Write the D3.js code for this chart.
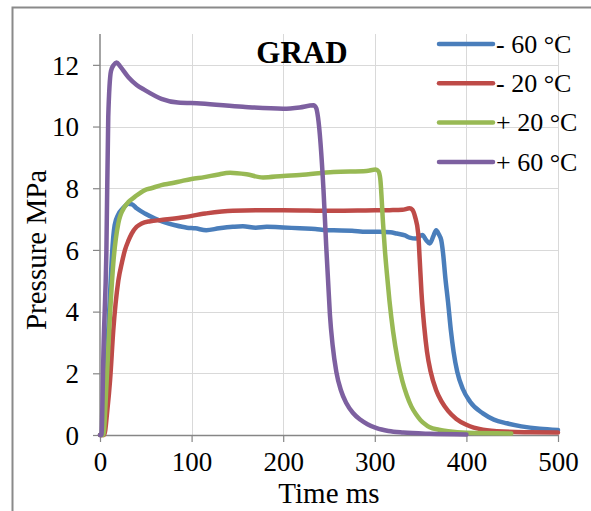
<!DOCTYPE html>
<html>
<head>
<meta charset="utf-8">
<script src="https://cdn.jsdelivr.net/npm/d3@7"></script>
<style>
  html, body { margin: 0; padding: 0; background: #fff; }
  svg { display: block; }
  text { font-family: "Liberation Serif", "Times New Roman", serif; fill: #000; }
</style>
</head>
<body>
<svg id="chart" width="591" height="511"></svg>
<script>
// Pressure traces (time in ms, pressure in MPa)
const seriesNames = ["- 60 °C", "- 20 °C", "+ 20 °C", "+ 60 °C"];
const seriesColors = ["#4a7ebb", "#be4b48", "#98b954", "#7d60a0"];

const tMinus60 = [0, 2, 5, 8, 11, 13, 16, 20, 25, 31, 35, 40, 49, 60, 70, 82, 95, 104, 116, 130, 145, 156, 170, 182, 200, 218, 235, 247, 255, 275, 291, 305, 317, 324, 333, 338, 345, 352, 356, 360, 364, 367, 370, 372.5, 374.5, 377, 380, 383, 386, 390, 396, 404, 418, 430, 444, 460, 480, 500];
const pMinus60 = [0, 0, 1.0, 2.8, 4.6, 5.8, 6.8, 7.15, 7.35, 7.5, 7.48, 7.35, 7.18, 7.02, 6.9, 6.8, 6.72, 6.7, 6.64, 6.7, 6.75, 6.77, 6.72, 6.75, 6.73, 6.7, 6.68, 6.64, 6.64, 6.62, 6.59, 6.59, 6.57, 6.53, 6.47, 6.4, 6.37, 6.48, 6.32, 6.21, 6.45, 6.64, 6.5, 6.32, 5.9, 5.1, 4.3, 3.4, 2.7, 2.05, 1.5, 1.08, 0.7, 0.5, 0.38, 0.28, 0.2, 0.16];

const tMinus20 = [0, 4.5, 8, 11, 14.5, 20, 24, 27.3, 31, 34.6, 40, 45.5, 55, 67, 89, 115, 145, 200, 255, 290, 316, 330, 338, 341, 344, 347.4, 349, 351, 354, 357, 361, 367, 373, 380, 389, 400, 418, 440, 470, 500];
const pMinus20 = [0, 0, 0.8, 1.78, 3.4, 5.0, 5.6, 6.0, 6.3, 6.53, 6.75, 6.86, 6.93, 6.97, 7.05, 7.18, 7.27, 7.29, 7.27, 7.28, 7.29, 7.3, 7.35, 7.3, 7.07, 6.53, 5.7, 4.6, 3.5, 2.7, 2.05, 1.45, 1.08, 0.78, 0.52, 0.33, 0.17, 0.11, 0.09, 0.08];

const tPlus20 = [0, 3.6, 7.3, 11, 14.5, 20, 27, 31, 38, 49, 56, 67, 78, 90, 100, 114, 128, 142, 160, 178, 200, 218, 255, 291, 301, 304, 306, 309, 311, 313, 316, 320, 325, 330, 335, 340, 345, 350, 355, 360, 370, 380, 400, 449];
const pPlus20 = [0, 0, 1.78, 3.94, 5.56, 6.86, 7.4, 7.55, 7.72, 7.94, 8.0, 8.1, 8.16, 8.24, 8.3, 8.36, 8.44, 8.5, 8.45, 8.35, 8.4, 8.43, 8.53, 8.56, 8.61, 8.55, 8.3, 6.86, 6.0, 5.3, 4.35, 3.35, 2.43, 1.76, 1.28, 0.92, 0.67, 0.48, 0.35, 0.25, 0.17, 0.12, 0.07, 0.05];

const tPlus60 = [0, 1.5, 4, 7, 9, 12, 15, 18, 22, 31, 40, 49, 67, 85, 110, 156, 200, 218, 233, 236, 238, 244, 247, 249, 251, 254, 258, 263, 269, 276, 284, 292, 302, 315, 331, 360, 400];
const pPlus60 = [0, 0, 3.0, 6.0, 10.3, 11.8, 12.0, 12.08, 11.95, 11.6, 11.35, 11.18, 10.9, 10.78, 10.75, 10.64, 10.58, 10.62, 10.69, 10.6, 10.3, 7.94, 6.1, 5.0, 3.9, 2.9, 2.05, 1.45, 1.03, 0.72, 0.5, 0.35, 0.22, 0.13, 0.08, 0.04, 0.02];

const xTicks = [0, 100, 200, 300, 400, 500];
const yTicks = [0, 2, 4, 6, 8, 10, 12];

const chartTitle = "GRAD";
const xTitle = "Time ms";
const yTitle = "Pressure MPa";

const times = [tMinus60, tMinus20, tPlus20, tPlus60];
const pressures = [pMinus60, pMinus20, pPlus20, pPlus60];
const series = seriesNames.map((name, i) => ({
  name,
  color: seriesColors[i],
  points: times[i].map((t, j) => ({ t, p: pressures[i][j] }))
}));

const svg = d3.select("#chart");

// outer frame (top and left edges visible)
svg.append("path")
  .attr("d", "M12.5,511 L12.5,7.5 L591,7.5")
  .attr("fill", "none")
  .attr("stroke", "#8a8a8a")
  .attr("stroke-width", 2);

const x = d3.scaleLinear().domain([0, 500]).range([100, 558]);
const y = d3.scaleLinear().domain([0, 13]).range([435, 34]);

// gridlines
svg.append("g").selectAll("line.h")
  .data(yTicks.filter(d => d > 0))
  .join("line")
  .attr("x1", x(0)).attr("x2", x(500))
  .attr("y1", d => Math.round(y(d)) + 0.5).attr("y2", d => Math.round(y(d)) + 0.5)
  .attr("stroke", "#d9d9d9").attr("stroke-width", 1);

svg.append("g").selectAll("line.v")
  .data(xTicks.filter(d => d > 0))
  .join("line")
  .attr("x1", d => Math.round(x(d)) + 0.5).attr("x2", d => Math.round(x(d)) + 0.5)
  .attr("y1", y(13)).attr("y2", y(0))
  .attr("stroke", "#d9d9d9").attr("stroke-width", 1);

// axes
const xAxis = d3.axisBottom(x).tickValues(xTicks).tickSizeInner(7).tickSizeOuter(0).tickPadding(10);
const yAxis = d3.axisLeft(y).tickValues(yTicks).tickSizeInner(7).tickSizeOuter(0).tickPadding(14);

const gx = svg.append("g").attr("transform", `translate(0,${y(0)})`).call(xAxis);
const gy = svg.append("g").attr("transform", `translate(${x(0)},0)`).call(yAxis);

[gx, gy].forEach(g => {
  g.select(".domain").attr("stroke", "#868686").attr("stroke-width", 1.5);
  g.selectAll(".tick line").attr("stroke", "#868686").attr("stroke-width", 1.2);
  g.selectAll(".tick text")
    .style("font-family", '"Liberation Serif", "Times New Roman", serif')
    .style("font-size", "27px")
    .attr("fill", "#000");
});
gy.select(".domain").attr("d", `M0,${y(13)}V${y(0)}`);
gy.selectAll(".tick text").attr("dy", "0.34em");

// series lines
const line = d3.line()
  .x(d => x(d.t))
  .y(d => y(d.p))
  .curve(d3.curveMonotoneX);

svg.append("g").selectAll("path")
  .data(series)
  .join("path")
  .attr("d", d => line(d.points))
  .attr("fill", "none")
  .attr("stroke", d => d.color)
  .attr("stroke-width", 4.5)
  .attr("stroke-linejoin", "round")
  .attr("stroke-linecap", "round");

// title
svg.append("text")
  .attr("x", 302).attr("y", 63)
  .attr("text-anchor", "middle")
  .style("font-size", "31px")
  .style("font-weight", "bold")
  .text(chartTitle);

// axis titles
svg.append("text")
  .attr("x", 329).attr("y", 503)
  .attr("text-anchor", "middle")
  .style("font-size", "29px")
  .text(xTitle);

svg.append("text")
  .attr("transform", `translate(46,${y(6)}) rotate(-90)`)
  .attr("text-anchor", "middle")
  .style("font-size", "29px")
  .text(yTitle);

// legend
const legend = svg.append("g");
const rows = legend.selectAll("g")
  .data(series)
  .join("g")
  .attr("transform", (d, i) => `translate(439,${44 + i * 39.3})`);
rows.append("line")
  .attr("x1", 0).attr("x2", 54)
  .attr("stroke", d => d.color)
  .attr("stroke-width", 4.5)
  .attr("stroke-linecap", "round");
rows.append("text")
  .attr("x", 57).attr("dy", "0.34em")
  .style("font-size", "26px")
  .text(d => d.name);
</script>
</body>
</html>
